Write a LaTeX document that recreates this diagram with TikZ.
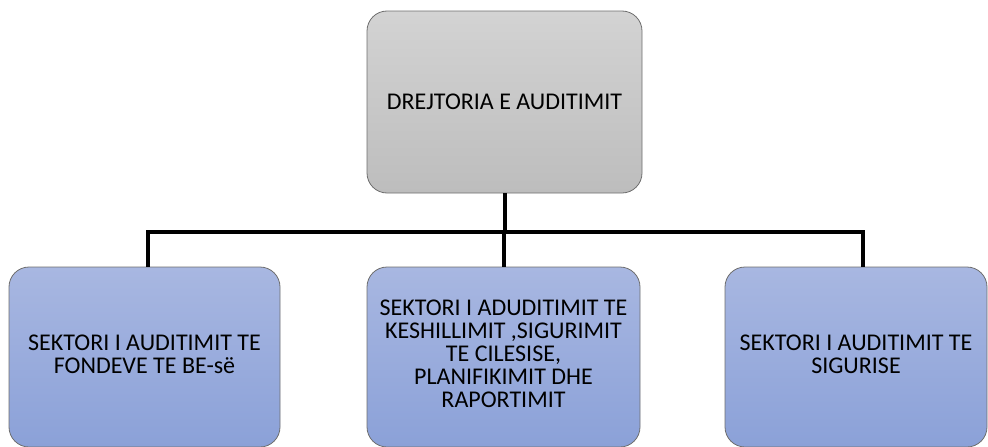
\documentclass[tikz,border=0pt]{standalone}
\usepackage{fontspec}
\setmainfont{Carlito}
\begin{document}
\begin{tikzpicture}[x=1pt,y=-1pt,
  box/.style={rectangle, rounded corners=20pt, draw=boxedge, line width=0.8pt,
    inner sep=0pt, align=center, font=\fontsize{24}{23}\selectfont, text=black},
  graybox/.style={box, top color=grayTop, bottom color=grayBot},
  bluebox/.style={box, top color=blueTop, bottom color=blueBot},
  conn/.style={line width=4pt, draw=black}]
\definecolor{grayTop}{HTML}{D3D3D3}
\definecolor{grayBot}{HTML}{BDBDBD}
\definecolor{blueTop}{HTML}{A8B7E1}
\definecolor{blueBot}{HTML}{8BA1D8}
\definecolor{boxedge}{HTML}{6E6E6E}
\useasboundingbox (0,0) rectangle (988,447);
\node[graybox, minimum width=275pt, minimum height=182pt] (top) at (504.5,102) {DREJTORIA E AUDITIMIT};
\node[bluebox, minimum width=271pt, minimum height=180pt] (left) at (144.5,357) {\raisebox{4pt}{\begin{tabular}{@{}c@{}}SEKTORI I AUDITIMIT TE\\FONDEVE TE BE-së\end{tabular}}};
\node[bluebox, minimum width=273pt, minimum height=180pt] (mid) at (503.5,357) {\raisebox{15pt}{\begin{tabular}{@{}c@{}}SEKTORI I ADUDITIMIT TE\\KESHILLIMIT ,SIGURIMIT\\TE CILESISE,\\PLANIFIKIMIT DHE\\RAPORTIMIT\end{tabular}}};
\node[bluebox, minimum width=262pt, minimum height=180pt] (right) at (856,357) {\raisebox{4pt}{\begin{tabular}{@{}c@{}}SEKTORI I AUDITIMIT TE\\SIGURISE\end{tabular}}};
\coordinate (jL) at (148,232);
\coordinate (jR) at (863,232);
\draw[conn] ([xshift=-2pt]jL) -- ([xshift=2pt]jR);
\draw[conn] (top.south) -- (top.south |- jL);
\draw[conn] (jL) -- (jL |- left.north);
\draw[conn] (mid.north) -- (mid.north |- jL);
\draw[conn] (jR) -- (jR |- right.north);
\end{tikzpicture}
\end{document}
